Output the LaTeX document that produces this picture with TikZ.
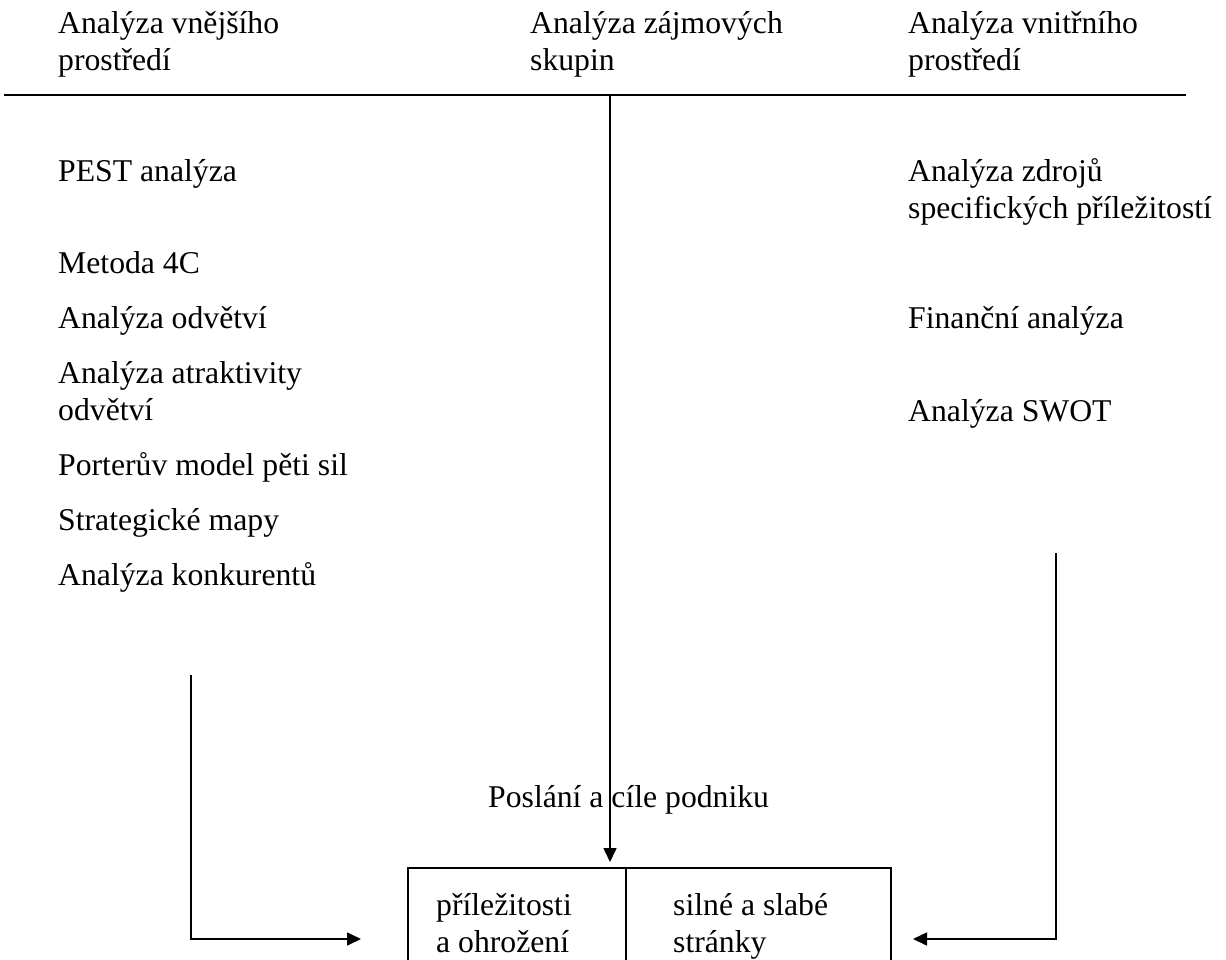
\documentclass[tikz,border=0pt]{standalone}
\usepackage{fontspec}
\setmainfont{Liberation Serif}
\usetikzlibrary{arrows.meta}
\tikzset{
  txt/.style={anchor=base west, inner sep=0pt, font=\fontsize{31.7}{37}\selectfont},
  conn/.style={line width=1.6pt},
  arr/.style={line width=1.6pt, -{Triangle[length=14pt,width=13pt]}},
  cell/.style={draw, line width=1.6pt, anchor=north west, inner sep=0pt, minimum height=130pt}
}
\newcommand{\twolines}[2]{\begin{tabular}[t]{@{}l@{}}#1\\#2\end{tabular}}
\begin{document}
\begin{tikzpicture}[x=1pt,y=-1pt]
\useasboundingbox (0,0) rectangle (1226,960);
\clip (0,0) rectangle (1226,960);
% headers
\node[txt] (hext) at (58,34) {\twolines{Analýza vnějšího}{prostředí}};
\node[txt] (hstk) at (530,34) {\twolines{Analýza zájmových}{skupin}};
\node[txt] (hint) at (908,34) {\twolines{Analýza vnitřního}{prostředí}};
% header rule
\coordinate (rl) at (4,95);
\coordinate (rr) at (1186,95);
\draw[line width=2.4pt] (rl) -- (rr);
% left list
\node[txt] (l1) at (58,182) {PEST analýza};
\node[txt] (l2) at (58,273) {Metoda 4C};
\node[txt] (l3) at (58,328) {Analýza odvětví};
\node[txt] (l4) at (58,383) {\twolines{Analýza atraktivity}{odvětví}};
\node[txt] (l5) at (58,475) {Porterův model pěti sil};
\node[txt] (l6) at (58,530) {Strategické mapy};
\node[txt] (l7) at (58,585) {Analýza konkurentů};
% right list
\node[txt] (r1) at (908,182) {\twolines{Analýza zdrojů}{specifických příležitostí}};
\node[txt] (r2) at (908,328) {Finanční analýza};
\node[txt] (r3) at (908,421) {Analýza SWOT};
% mission
\node[txt] (mis) at (488,807) {Poslání a cíle podniku};
% SWOT box
\node[cell, minimum width=218pt] (opp) at (407,867) {};
\node[cell, minimum width=265pt] (sw) at (625,867) {};
\node[txt] (oppt) at (436,915) {\twolines{příležitosti}{a ohrožení}};
\node[txt] (swt) at (673,915) {\twolines{silné a slabé}{stránky}};
% connectors
\coordinate (ctop) at (610,95);
\coordinate (ctip) at (610,862);
\draw[arr] (ctop) -- (ctip);
\coordinate (ltop) at (191,675);
\coordinate (ltip) at (361,939);
\draw[arr] (ltop) |- (ltip);
\coordinate (rtop) at (1056,553);
\coordinate (rtip) at (913,939);
\draw[arr] (rtop) |- (rtip);
\end{tikzpicture}
\end{document}
